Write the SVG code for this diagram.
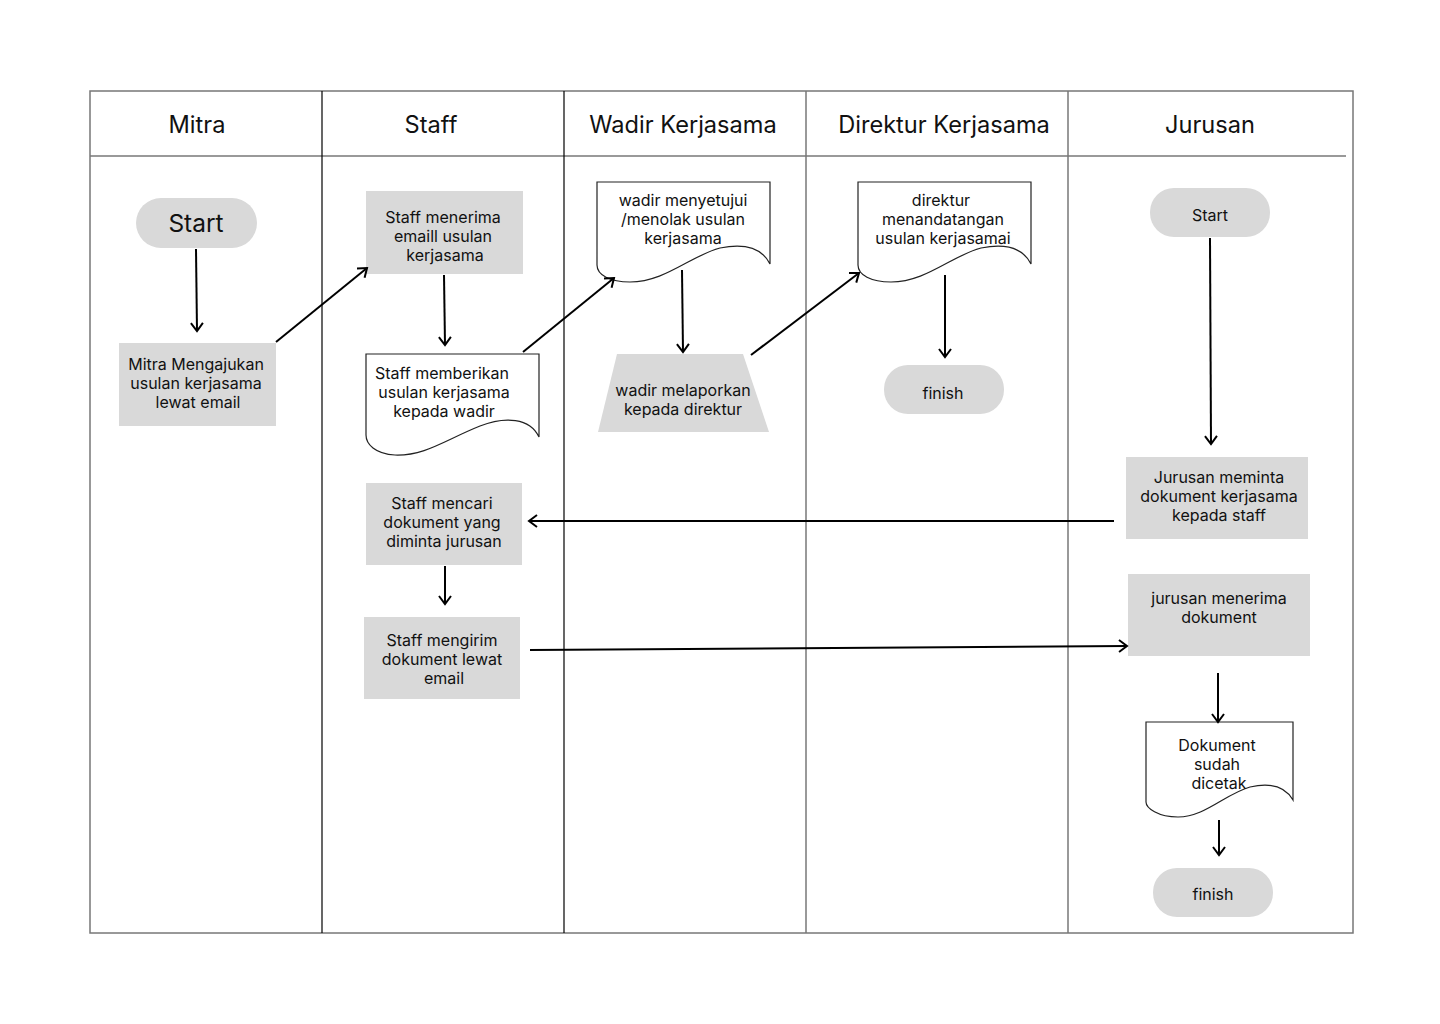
<svg xmlns="http://www.w3.org/2000/svg" width="1440" height="1024" viewBox="0 0 1440 1024">
<style>
text{font-family:Inter,"Noto Sans","Liberation Sans",sans-serif;fill:#111;text-anchor:middle}
.h{font-size:23.6px}
.t{font-size:16px}
.box{fill:#d9d9d9}
.doc{fill:#fff;stroke:#222;stroke-width:1.2}
.c line{stroke:#000;stroke-width:2;marker-end:url(#ah)}
</style>
<defs>
<marker id="ah" viewBox="0 0 12 14" refX="10" refY="7" markerWidth="12" markerHeight="14" markerUnits="userSpaceOnUse" orient="auto">
<path d="M2,1 L10,7 L2,13" fill="none" stroke="#000" stroke-width="2"/>
</marker>
</defs>
<rect width="1440" height="1024" fill="#fff"/>
<g id="lanes">
<rect x="90" y="91" width="1263" height="842" fill="none" stroke="#777" stroke-width="1.5"/>
<line x1="90" y1="156" x2="1346" y2="156" stroke="#777" stroke-width="1.5"/>
<line x1="322" y1="91" x2="322" y2="933" stroke="#000" stroke-width="1.2"/>
<line x1="564" y1="91" x2="564" y2="933" stroke="#000" stroke-width="1.2"/>
<line x1="806" y1="91" x2="806" y2="933" stroke="#777" stroke-width="1.5"/>
<line x1="1068" y1="91" x2="1068" y2="933" stroke="#777" stroke-width="1.5"/>
<text class="h" x="197" y="133">Mitra</text>
<text class="h" x="431" y="133">Staff</text>
<text class="h" x="683" y="133">Wadir Kerjasama</text>
<text class="h" x="944" y="133">Direktur Kerjasama</text>
<text class="h" x="1210" y="133">Jurusan</text>
</g>
<g id="mitra-start"><rect class="box" x="136" y="198" width="121" height="50" rx="25"/><text x="196" y="232" style="font-size:24.5px">Start</text></g>
<g id="mitra-mengajukan"><rect class="box" x="119" y="343" width="157" height="83"/><text class="t" x="196" y="370">Mitra Mengajukan</text><text class="t" x="196" y="389">usulan kerjasama</text><text class="t" x="198" y="408">lewat email</text></g>
<g id="staff-menerima"><rect class="box" x="366" y="191" width="157" height="83"/><text class="t" x="443" y="223">Staff menerima</text><text class="t" x="443" y="242">emaill usulan</text><text class="t" x="445" y="261">kerjasama</text></g>
<g id="staff-memberikan"><path class="doc" d="M366,354 H539 V437 C530,418 505,416 480,426 C445,440 425,456 395,455 C375,454 366,444 366,435 Z"/><text class="t" x="442" y="379">Staff memberikan</text><text class="t" x="444" y="398">usulan kerjasama</text><text class="t" x="444" y="417">kepada wadir</text></g>
<g id="wadir-menyetujui"><path class="doc" d="M597,182 H770 V264 C762,248 745,243 720,248 C690,256 665,282 630,282 C610,282 597,275 597,265 Z"/><text class="t" x="683" y="206">wadir menyetujui</text><text class="t" x="683" y="225">/menolak usulan</text><text class="t" x="683" y="244">kerjasama</text></g>
<g id="wadir-melaporkan"><polygon class="box" points="617,354 743,354 769,432 598,432"/><text class="t" x="683" y="396">wadir melaporkan</text><text class="t" x="683" y="415">kepada direktur</text></g>
<g id="direktur-menandatangan"><path class="doc" d="M858,182 H1031 V264 C1023,248 1006,243 981,248 C951,256 926,282 891,282 C871,282 858,275 858,265 Z"/><text class="t" x="941" y="206">direktur</text><text class="t" x="943" y="225">menandatangan</text><text class="t" x="943" y="244">usulan kerjasamai</text></g>
<g id="direktur-finish"><rect class="box" x="884" y="365" width="120" height="49" rx="24"/><text class="t" x="943" y="399">finish</text></g>
<g id="jurusan-start"><rect class="box" x="1150" y="188" width="120" height="49" rx="24"/><text class="t" x="1210" y="221">Start</text></g>
<g id="jurusan-meminta"><rect class="box" x="1126" y="457" width="182" height="82"/><text class="t" x="1219" y="483">Jurusan meminta</text><text class="t" x="1219" y="502">dokument kerjasama</text><text class="t" x="1219" y="521">kepada staff</text></g>
<g id="staff-mencari"><rect class="box" x="366" y="483" width="156" height="82"/><text class="t" x="442" y="509">Staff mencari</text><text class="t" x="442" y="528">dokument yang</text><text class="t" x="444" y="547">diminta jurusan</text></g>
<g id="staff-mengirim"><rect class="box" x="364" y="617" width="156" height="82"/><text class="t" x="442" y="646">Staff mengirim</text><text class="t" x="442" y="665">dokument lewat</text><text class="t" x="444" y="684">email</text></g>
<g id="jurusan-menerima"><rect class="box" x="1128" y="574" width="182" height="82"/><text class="t" x="1219" y="604">jurusan menerima</text><text class="t" x="1219" y="623">dokument</text></g>
<g id="dokument-dicetak"><path class="doc" d="M1146,722 H1293 V800 C1286,788 1272,782 1250,787 C1225,794 1205,817 1178,817 C1158,817 1146,808 1146,802 Z"/><text class="t" x="1217" y="751">Dokument</text><text class="t" x="1217" y="770">sudah</text><text class="t" x="1219" y="789">dicetak</text></g>
<g id="jurusan-finish"><rect class="box" x="1153" y="868" width="120" height="49" rx="24"/><text class="t" x="1213" y="900">finish</text></g>
<g id="connectors" class="c">
<line x1="196" y1="249" x2="197" y2="331"/>
<line x1="276" y1="342" x2="367" y2="268"/>
<line x1="444" y1="275" x2="445" y2="345"/>
<line x1="523" y1="352" x2="614" y2="278"/>
<line x1="682" y1="270" x2="683" y2="352"/>
<line x1="751" y1="355" x2="859" y2="273"/>
<line x1="945" y1="275" x2="945" y2="357"/>
<line x1="1210" y1="238" x2="1211" y2="444"/>
<line x1="1114" y1="521" x2="529" y2="521"/>
<line x1="445" y1="566" x2="445" y2="604"/>
<line x1="530" y1="650" x2="1127" y2="646"/>
<line x1="1218" y1="673" x2="1218" y2="722"/>
<line x1="1219" y1="820" x2="1219" y2="855"/>
</g>
</svg>
